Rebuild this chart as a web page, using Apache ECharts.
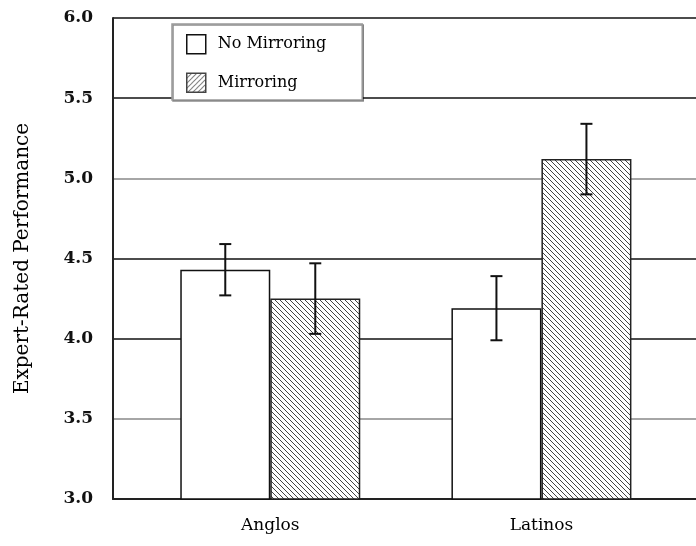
<!DOCTYPE html>
<html>
<head>
<meta charset="utf-8">
<script src="https://cdn.jsdelivr.net/npm/echarts@6/dist/echarts.min.js"></script>
<style>
  html, body { margin: 0; padding: 0; background: #fff; }
  #chart { width: 696px; height: 546px; }
</style>
</head>
<body>
<div id="chart"></div>
<script>
// values
var categories = ['Anglos', 'Latinos'];
var seriesNames = ['No Mirroring', 'Mirroring'];
var noMirroring = [4.43, 4.19];
var noMirroringErr = [0.16, 0.20];
var mirroring = [4.25, 5.12];
var mirroringErr = [0.22, 0.22];
var yTicks = [3.0, 3.5, 4.0, 4.5, 5.0, 5.5, 6.0];

var FONT = 'DejaVu Serif';
var BAR_W = 90;

// hatch tiles: "\\\" for bars, "///" for the legend swatch
function hatch(dir) {
    var s = 5;
    var c = document.createElement('canvas');
    c.width = s; c.height = s;
    var ctx = c.getContext('2d');
    ctx.fillStyle = '#fff';
    ctx.fillRect(0, 0, s, s);
    ctx.strokeStyle = '#444';
    ctx.lineWidth = 1;
    ctx.beginPath();
    if (dir === 'back') {
        ctx.moveTo(-1, -1); ctx.lineTo(s + 1, s + 1);
        ctx.moveTo(-1, s - 1); ctx.lineTo(1, s + 1);
        ctx.moveTo(s - 1, -1); ctx.lineTo(s + 1, 1);
    } else {
        ctx.moveTo(-1, s + 1); ctx.lineTo(s + 1, -1);
        ctx.moveTo(-1, 1); ctx.lineTo(1, -1);
        ctx.moveTo(s - 1, s + 1); ctx.lineTo(s + 1, s - 1);
    }
    ctx.stroke();
    return { image: c, repeat: 'repeat' };
}

function barData(vals) {
    var out = [];
    for (var i = 0; i < vals.length; i++) out.push([i + 1, vals[i]]);
    return out;
}
function errData(vals, errs) {
    var out = [];
    for (var i = 0; i < vals.length; i++) out.push([i + 1, vals[i] - errs[i], vals[i] + errs[i]]);
    return out;
}
function errRender(shift) {
    return function (params, api) {
        var lo = api.coord([api.value(0), api.value(1)]);
        var hi = api.coord([api.value(0), api.value(2)]);
        var x = lo[0] + shift;
        var cap = 6;
        var st = { stroke: '#111', lineWidth: 2 };
        return {
            type: 'group',
            children: [
                { type: 'line', shape: { x1: x, y1: lo[1], x2: x, y2: hi[1] }, style: st },
                { type: 'line', shape: { x1: x - cap, y1: lo[1], x2: x + cap, y2: lo[1] }, style: st },
                { type: 'line', shape: { x1: x - cap, y1: hi[1], x2: x + cap, y2: hi[1] }, style: st }
            ]
        };
    };
}

var gridColors = ['#111', '#888', '#111', '#111', '#888', '#111', '#111'];

var chart = echarts.init(document.getElementById('chart'), null, { renderer: 'canvas' });
chart.setOption({
    animation: false,
    backgroundColor: '#fff',
    textStyle: { fontFamily: FONT, color: '#000' },
    grid: { left: 113, right: 0, top: 18, bottom: 47 },
    legend: {
        orient: 'vertical',
        left: 172,
        top: 24,
        padding: [10, 36, 7, 14],
        itemWidth: 19,
        itemHeight: 19,
        itemGap: 18,
        backgroundColor: '#fff',
        borderColor: '#999',
        borderWidth: 1.5,
        shadowColor: 'rgba(0,0,0,0.45)',
        shadowOffsetX: 1,
        shadowOffsetY: 1,
        shadowBlur: 0,
        textStyle: { fontFamily: FONT, fontSize: 16, color: '#000', padding: [0, 0, 0, 7] },
        data: [
            { name: seriesNames[0], icon: 'rect', itemStyle: { color: '#fff', borderColor: '#111', borderWidth: 1.5 } },
            { name: seriesNames[1], icon: 'rect', itemStyle: { color: hatch('fwd'), borderColor: '#444', borderWidth: 1.5 } }
        ]
    },
    xAxis: {
        type: 'value',
        min: 0.42,
        max: 2.57,
        splitLine: { show: false },
        axisTick: { show: false },
        axisLine: { show: true, onZero: false, lineStyle: { color: '#222', width: 2 } },
        axisLabel: {
            customValues: [1, 2],
            margin: 18,
            fontFamily: FONT,
            fontSize: 17,
            color: '#000',
            formatter: function (v) { return categories[Math.round(v) - 1] || ''; }
        }
    },
    yAxis: {
        type: 'value',
        min: yTicks[0],
        max: yTicks[yTicks.length - 1],
        interval: 0.5,
        name: 'Expert-Rated Performance',
        nameLocation: 'middle',
        nameRotate: 90,
        nameGap: 80,
        nameTextStyle: { fontFamily: FONT, fontSize: 20, color: '#000' },
        axisLine: { show: true, lineStyle: { color: '#222', width: 2 } },
        axisTick: { show: false },
        splitLine: { show: true, lineStyle: { color: gridColors, width: 1.5 } },
        axisLabel: {
            margin: 20,
            fontFamily: FONT,
            fontSize: 17,
            fontWeight: 'bold',
            color: '#111',
            formatter: function (v) { return v.toFixed(1); }
        }
    },
    series: [
        {
            name: seriesNames[0],
            type: 'bar',
            barWidth: BAR_W,
            barGap: '0%',
            data: barData(noMirroring),
            itemStyle: { color: '#fff', borderColor: '#111', borderWidth: 1.5 },
            z: 2
        },
        {
            name: seriesNames[1],
            type: 'bar',
            barWidth: BAR_W,
            barGap: '0%',
            data: barData(mirroring),
            itemStyle: { color: hatch('back'), borderColor: '#222', borderWidth: 1.5 },
            z: 2
        },
        {
            type: 'custom',
            renderItem: errRender(-BAR_W / 2),
            data: errData(noMirroring, noMirroringErr),
            encode: { x: 0, y: [1, 2] },
            z: 5
        },
        {
            type: 'custom',
            renderItem: errRender(BAR_W / 2),
            data: errData(mirroring, mirroringErr),
            encode: { x: 0, y: [1, 2] },
            z: 5
        }
    ]
});
</script>
</body>
</html>
